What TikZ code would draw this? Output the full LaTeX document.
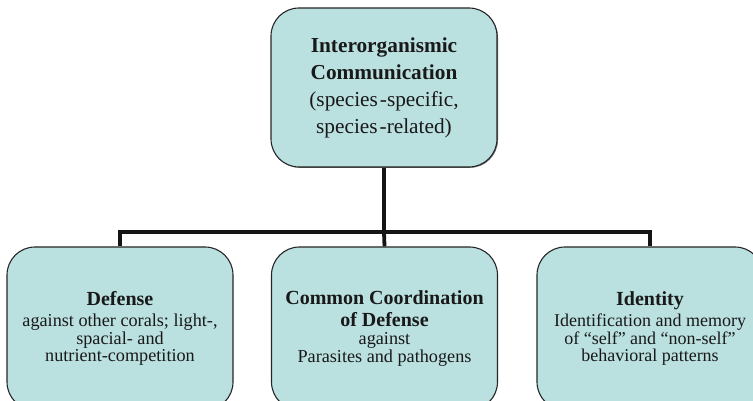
\documentclass[tikz,border=0pt]{standalone}
\usepackage{fontspec}
\setmainfont{Liberation Serif}
\begin{document}
\begin{tikzpicture}[x=1pt,y=1pt,
  card/.style={draw=black!85, line width=1.1pt, fill=boxcol, rounded corners=28pt,
    minimum width=226pt, inner sep=0pt, align=center, text=black!90},
  topfont/.style={font=\fontsize{21.3}{27}\selectfont},
  subfont/.style={font=\fontsize{18.2}{17.5}\selectfont},
  link/.style={line width=3.8pt, draw=black!92}]
\definecolor{boxcol}{RGB}{186,224,224}
\newcommand\headline[1]{{\fontsize{20}{22}\selectfont\bfseries #1}}
\useasboundingbox (0,0) rectangle (753,401);
\clip (0,0) rectangle (753,401);

% root of the tree, with a faint drop shadow
\fill[black!55, rounded corners=28pt] (272.2,233.2) rectangle (498,392);
\node[card, topfont, minimum height=159pt] (root) at (384,313.5)
  {\textbf{Interorganismic}\\
   \textbf{Communication}\\
   (species\kern2pt-specific,\\
   species\kern2pt-related)};

% the three branches
\node[card, subfont, minimum height=163pt] (defense) at (120,72.5)
  {\headline{Defense}\\[3.5pt]
   against other corals; light-,\\
   spacial- and\\
   nutrient-competition};

\node[card, subfont, minimum height=163pt] (coord) at (384.5,72.5)
  {\headline{Common Coordination}\\[4.5pt]
   \headline{of Defense}\\[0.5pt]
   against\\
   Parasites and pathogens};

\node[card, subfont, minimum height=163pt] (ident) at (650,72.5)
  {\headline{Identity}\\[3.5pt]
   \fontsize{18}{17.5}\selectfont Identification and memory\\
   \fontsize{18}{17.5}\selectfont of “self” and “non-self”\\
   \fontsize{18}{17.5}\selectfont behavioral patterns};

% connectors
\coordinate (bar) at (384,169);
\draw[link] (root.south) -- (bar);
\draw[link] (defense.north) |- (bar) -| (ident.north);
\draw[link] (bar) -- (coord.north);
\end{tikzpicture}
\end{document}
